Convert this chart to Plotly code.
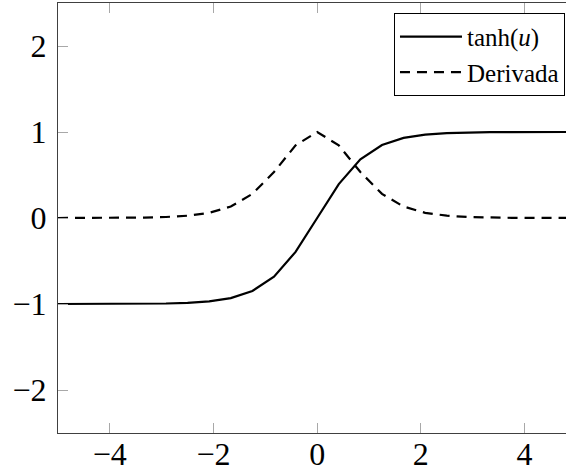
import plotly.graph_objects as go

# Sample points, 25 samples over [-5, 5]
u = [-5.0, -4.5833, -4.1667, -3.75, -3.3333, -2.9167, -2.5, -2.0833, -1.6667,
     -1.25, -0.8333, -0.4167, 0.0, 0.4167, 0.8333, 1.25, 1.6667, 2.0833, 2.5,
     2.9167, 3.3333, 3.75, 4.1667, 4.5833, 5.0]
tanh_vals = [-0.9999, -0.9998, -0.9995, -0.9989, -0.9975, -0.9942, -0.9866,
             -0.9695, -0.9311, -0.8483, -0.6823, -0.3941, 0.0, 0.3941, 0.6823,
             0.8483, 0.9311, 0.9695, 0.9866, 0.9942, 0.9975, 0.9989, 0.9995,
             0.9998, 0.9999]
deriv_vals = [0.0002, 0.0004, 0.0010, 0.0022, 0.0051, 0.0117, 0.0266, 0.0601,
              0.1330, 0.2804, 0.5345, 0.8447, 1.0, 0.8447, 0.5345, 0.2804,
              0.1330, 0.0601, 0.0266, 0.0117, 0.0051, 0.0022, 0.0010, 0.0004,
              0.0002]
x_ticks = [-4, -2, 0, 2, 4]
y_ticks = [-2, -1, 0, 1, 2]

FONT = "Liberation Serif"

fig = go.Figure()
fig.add_trace(go.Scatter(x=u, y=tanh_vals, mode="lines", name="tanh(<i>u</i>)",
                         line=dict(color="black", width=2.2)))
fig.add_trace(go.Scatter(x=u, y=deriv_vals, mode="lines", name="Derivada",
                         line=dict(color="black", width=2.2, dash="10px,7px")))

fig.update_layout(
    width=566, height=471,
    margin=dict(l=58, r=0, t=3, b=38),
    paper_bgcolor="white", plot_bgcolor="white",
    font=dict(family=FONT, color="black", size=32),
    showlegend=True,
    legend=dict(x=0.998, y=0.977, xanchor="right", yanchor="top",
                bordercolor="black", borderwidth=1, bgcolor="white",
                font=dict(family=FONT, size=25, color="black"),
                tracegroupgap=0, itemwidth=62),
    xaxis=dict(range=[-5, 4.80], tickvals=x_ticks, showgrid=False, zeroline=False,
               showline=True, linecolor="#404040", linewidth=1.3, mirror="ticks",
               ticks="inside", ticklen=10, tickcolor="#a8a8a8", tickwidth=1,
               automargin=False,
               tickfont=dict(family=FONT, size=32), ticklabelstandoff=-8),
    yaxis=dict(range=[-2.5, 2.5], tickvals=y_ticks, showgrid=False, zeroline=False,
               showline=True, linecolor="#404040", linewidth=1.3, mirror=False,
               ticks="inside", ticklen=10, tickcolor="#a8a8a8", tickwidth=1,
               automargin=False,
               tickfont=dict(family=FONT, size=32), ticklabelstandoff=4),
)

fig.write_html("out.html")
